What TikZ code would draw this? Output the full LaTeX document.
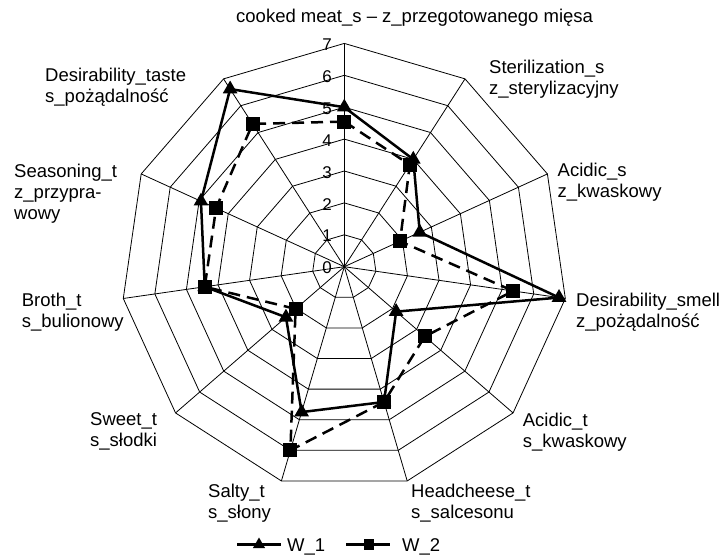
\documentclass[tikz,border=0pt]{standalone}
\usepackage{fontspec}
\setmainfont{Liberation Sans}
\usetikzlibrary{shapes.geometric}
\begin{document}
\begin{tikzpicture}[x=1pt,y=-1pt,
  gridline/.style={line width=0.8pt, black},
  serA/.style={line width=2.5pt, black, line join=miter},
  serB/.style={line width=2.5pt, black, dash pattern=on 12pt off 7pt},
  tri/.style={regular polygon, regular polygon sides=3, minimum size=17pt, inner sep=0pt, fill=black, draw=none},
  sqr/.style={rectangle, minimum size=14pt, inner sep=0pt, fill=black, draw=none},
  ltri/.style={regular polygon, regular polygon sides=3, minimum size=14pt, inner sep=0pt, fill=black, draw=none},
  lsqr/.style={rectangle, minimum size=10.5pt, inner sep=0pt, fill=black, draw=none},
  lbl/.style={anchor=base west, inner sep=0pt, font=\fontsize{18.5}{21}\selectfont},
  tick/.style={anchor=east, inner sep=0pt, font=\fontsize{17}{19}\selectfont}]
\useasboundingbox (0,0) rectangle (723,558);
\def\cx{344.3}\def\cy{266.7}\def\u{31.9}
\coordinate (c) at (\cx,\cy);
% grid rings
\foreach \r in {1,...,7}{
  \draw[gridline] (\cx,{\cy-\r*\u}) \foreach \k in {1,...,10}{ -- ({\cx+\r*\u*sin(\k*360/11)},{\cy-\r*\u*cos(\k*360/11)}) } -- cycle;
}
% spokes
\foreach \k in {0,...,10}{
  \coordinate (o\k) at ({\cx+7*\u*sin(\k*360/11)},{\cy-7*\u*cos(\k*360/11)});
  \draw[gridline] (c) -- (o\k);
}
% tick labels
\foreach \r in {0,...,7}{
  \node[tick] (t\r) at (332,{\cy-\r*\u+1.2}) {\r};
}
% data W_1
\foreach \k/\v in {0/5.0,1/4.0,2/2.6,3/6.8,4/2.15,5/4.42,6/4.75,7/2.42,8/4.42,9/4.94,10/6.62}{
  \coordinate (a\k) at ({\cx+\v*\u*sin(\k*360/11)},{\cy-\v*\u*cos(\k*360/11)});
}
% data W_2
\foreach \k/\v in {0/4.55,1/3.8,2/1.92,3/5.35,4/3.34,5/4.42,6/6.0,7/2.02,8/4.42,9/4.42,10/5.32}{
  \coordinate (b\k) at ({\cx+\v*\u*sin(\k*360/11)},{\cy-\v*\u*cos(\k*360/11)});
}
\draw[serA] (a0) -- (a1) -- (a2) -- (a3) -- (a4) -- (a5) -- (a6) -- (a7) -- (a8) -- (a9) -- (a10) -- cycle;
\foreach \k in {0,...,10}{ \node[tri] (ma\k) at (a\k) {}; }
\draw[serB] (b0) -- (b1) -- (b2) -- (b3) -- (b4) -- (b5) -- (b6) -- (b7) -- (b8) -- (b9) -- (b10) -- cycle;
\foreach \k in {0,...,10}{ \node[sqr] (mb\k) at (b\k) {}; }
% category labels
\node[lbl] (l0) at (236,22.5) {cooked meat\_s – z\_przegotowanego mięsa};
\node[lbl] (l1a) at (489,73.3) {Sterilization\_s};
\node[lbl] (l1b) at (489,94.3) {z\_sterylizacyjny};
\node[lbl] (l2a) at (557.5,176.7) {Acidic\_s};
\node[lbl] (l2b) at (557.5,197.7) {z\_kwaskowy};
\node[lbl] (l3a) at (576,306.7) {Desirability\_smell};
\node[lbl] (l3b) at (576,327.7) {z\_pożądalność};
\node[lbl] (l4a) at (522.7,426) {Acidic\_t};
\node[lbl] (l4b) at (522.7,447) {s\_kwaskowy};
\node[lbl] (l5a) at (411,497.3) {Headcheese\_t};
\node[lbl] (l5b) at (411,518.3) {s\_salcesonu};
\node[lbl] (l6a) at (208,497.3) {Salty\_t};
\node[lbl] (l6b) at (208,518.3) {s\_słony};
\node[lbl] (l7a) at (90,425.7) {Sweet\_t};
\node[lbl] (l7b) at (90,446.7) {s\_słodki};
\node[lbl] (l8a) at (21.7,306.7) {Broth\_t};
\node[lbl] (l8b) at (21.7,327.7) {s\_bulionowy};
\node[lbl] (l9a) at (14,177.3) {Seasoning\_t};
\node[lbl] (l9b) at (14,198.3) {z\_przypra-};
\node[lbl] (l9c) at (14,219.3) {wowy};
\node[lbl] (l10a) at (45,81.7) {Desirability\_taste};
\node[lbl] (l10b) at (45,102.7) {s\_pożądalność};
% legend
\coordinate (la1) at (237,544.5);
\coordinate (la2) at (281,544.5);
\draw[line width=2.5pt] (la1) -- (la2);
\node[ltri] (lm1) at (259,544.5) {};
\node[lbl] (w1) at (287,551.7) {W\_1};
\coordinate (lb1) at (346,544.5);
\coordinate (lb2) at (390,544.5);
\draw[line width=2.5pt] (lb1) -- (lb2);
\node[lsqr] (lm2) at (369,544.5) {};
\node[lbl] (w2) at (402,551.7) {W\_2};
\end{tikzpicture}
\end{document}
